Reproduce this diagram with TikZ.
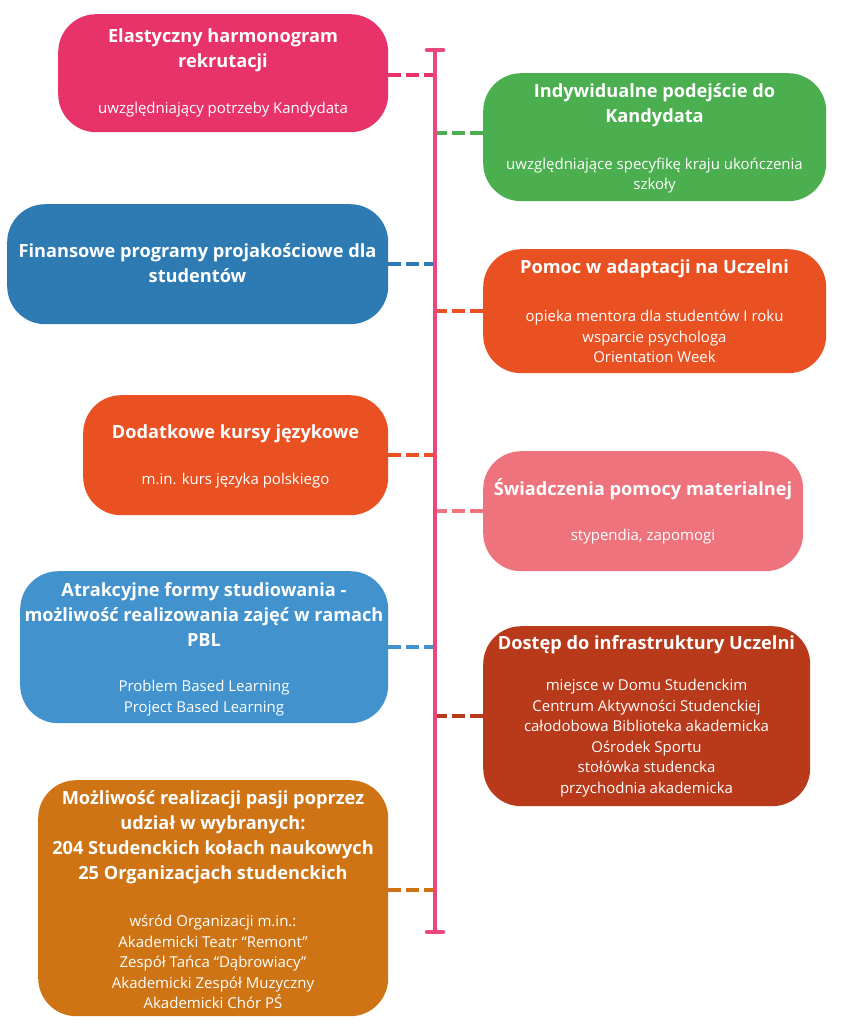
\documentclass[tikz,border=0pt]{standalone}
\usepackage{fontspec}
\setmainfont{Open Sans}
\definecolor{rozowy}{HTML}{E8336A}
\definecolor{zielony}{HTML}{4BAE4F}
\definecolor{granat}{HTML}{2E7BB4}
\definecolor{pomarancz}{HTML}{E95123}
\definecolor{lososiowy}{HTML}{EE737D}
\definecolor{niebieski}{HTML}{4292CE}
\definecolor{ceglasty}{HTML}{B9391B}
\definecolor{miodowy}{HTML}{CE7414}
\definecolor{kregoslup}{HTML}{EA487C}
\tikzset{
  card/.style={rounded corners=38pt, inner sep=0pt, anchor=north west},
  ttl/.style={text=white, align=center, inner sep=0pt, font=\fontsize{18.2}{25}\selectfont\bfseries},
  sub/.style={text=white, align=center, inner sep=0pt, font=\fontsize{15}{20.5}\selectfont},
  link/.style={line width=4pt, dash pattern=on 13pt off 5pt},
  spine/.style={line width=4.5pt, color=kregoslup, line cap=round}
}

\begin{document}
\begin{tikzpicture}[x=1pt, y=-1pt]
        \useasboundingbox (0,0) rectangle (840,1024);

        \coordinate (top) at (435,50);
        \coordinate (bot) at (435,932);

        % boxes
        \node[card, fill=rozowy, minimum width=330pt, minimum height=118pt] (rekr) at (58,14) {};
        \node[card, fill=zielony, minimum width=343pt, minimum height=128pt] (kand) at (483,73) {};
        \node[card, fill=granat, minimum width=381pt, minimum height=120pt] (fin) at (7,204) {};
        \node[card, fill=pomarancz, minimum width=343pt, minimum height=124pt] (adapt) at (483,249) {};
        \node[card, fill=pomarancz, minimum width=305pt, minimum height=120pt] (kursy) at (83,395) {};
        \node[card, fill=lososiowy, minimum width=320pt, minimum height=120pt] (swiad) at (483,451) {};
        \node[card, fill=niebieski, minimum width=368pt, minimum height=152pt] (pbl) at (20,571) {};
        \node[card, fill=ceglasty, minimum width=327pt, minimum height=180pt] (infra) at (483,626) {};
        \node[card, fill=miodowy, minimum width=350pt, minimum height=236pt] (pasje) at (38,780) {};

        % texts
        \node[ttl] (rekr-t) at (223,50.5) {Elastyczny harmonogram\\rekrutacji};
        \node[sub] (rekr-s) at (223,110) {uwzględniający potrzeby Kandydata};
        \node[ttl] (kand-t) at (654.5,105.5) {Indywidualne podejście do\\Kandydata};
        \node[sub] (kand-s) at (654.5,175.5) {uwzględniające specyfikę kraju ukończenia\\szkoły};
        \node[ttl] (fin-t) at (197.5,263.5) {Finansowe programy projakościowe dla\\studentów};
        \node[ttl] (adapt-t) at (654.5,269) {Pomoc w adaptacji na Uczelni};
        \node[sub] (adapt-s) at (654.5,336.5) {opieka mentora dla studentów I roku\\wsparcie psychologa\\Orientation Week};
        \node[ttl] (kursy-t) at (235.5,433.5) {Dodatkowe kursy językowe};
        \node[sub] (kursy-s) at (235.5,480.5) {m.in. kurs języka polskiego};
        \node[ttl] (swiad-t) at (643,489) {Świadczenia pomocy materialnej};
        \node[sub] (swiad-s) at (643,537) {stypendia, zapomogi};
        \node[ttl] (pbl-t) at (204,615) {Atrakcyjne formy studiowania -\\możliwość realizowania zajęć w ramach\\PBL};
        \node[sub] (pbl-s) at (204,698) {Problem Based Learning\\Project Based Learning};
        \node[ttl] (infra-t) at (646.5,645) {Dostęp do infrastruktury Uczelni};
        \node[sub] (infra-s) at (646.5,738) {miejsce w Domu Studenckim\\Centrum Aktywności Studenckiej\\całodobowa Biblioteka akademicka\\Ośrodek Sportu\\stołówka studencka\\przychodnia akademicka};
        \node[ttl] (pasje-t) at (213,837) {Możliwość realizacji pasji poprzez\\udział w wybranych:\\204 Studenckich kołach naukowych\\25 Organizacjach studenckich};
        \node[sub] (pasje-s) at (213,962) {wśród Organizacji m.in.:\\Akademicki Teatr “Remont”\\Zespół Tańca “Dąbrowiacy”\\Akademicki Zespół Muzyczny\\Akademicki Chór PŚ};

        % connectors
        \draw[link, rozowy] ([yshift=-2pt]rekr.east) -- ([yshift=-2pt]rekr.east -| top);
        \draw[link, zielony] ([yshift=4pt]kand.west) -- ([yshift=4pt]kand.west -| top);
        \draw[link, granat] (fin.east) -- (fin.east -| top);
        \draw[link, pomarancz] (adapt.west) -- (adapt.west -| top);
        \draw[link, pomarancz] (kursy.east) -- (kursy.east -| top);
        \draw[link, lososiowy] (swiad.west) -- (swiad.west -| top);
        \draw[link, niebieski] (pbl.east) -- (pbl.east -| top);
        \draw[link, ceglasty] (infra.west) -- (infra.west -| top);
        \draw[link, miodowy] ([yshift=8pt]pasje.east) -- ([yshift=8pt]pasje.east -| top);

        % spine
        \draw[spine] (top) -- (bot);
        \draw[spine] ([xshift=-8pt]top) -- ([xshift=8pt]top);
        \draw[spine] ([xshift=-8pt]bot) -- ([xshift=8pt]bot);
\end{tikzpicture}
\end{document}
